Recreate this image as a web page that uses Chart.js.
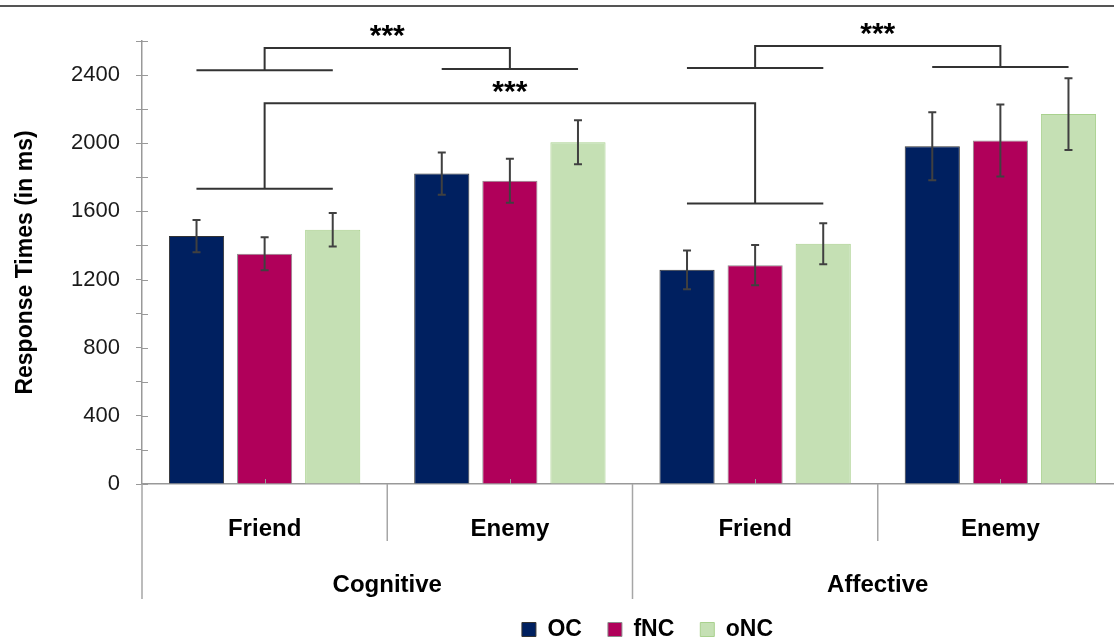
<!DOCTYPE html>
<html>
<head>
<meta charset="utf-8">
<script src="https://cdn.jsdelivr.net/npm/chart.js@4"></script>
<style>
  html, body { margin: 0; padding: 0; background: #fff; overflow: hidden; }
  #wrap { width: 1125px; height: 641px; position: relative; }
</style>
</head>
<body>
<div id="wrap"><canvas id="myChart"></canvas></div>
<script>
// data
const categories = ['Friend', 'Enemy', 'Friend', 'Enemy'];
const groups = ['Cognitive', 'Affective'];

const ocMeans   = [1455, 1822, 1257, 1982];
const ocErrors  = [95, 124, 114, 200];
const fncMeans  = [1351, 1780, 1284, 2016];
const fncErrors = [97, 129, 118, 211];
const oncMeans  = [1492, 2006, 1410, 2171];
const oncErrors = [98, 129, 120, 210];

const yTicks = [0, 400, 800, 1200, 1600, 2000, 2400];

// significance brackets (category index + value levels)
const sigBrackets = [
  { a: 0, b: 1, lowA: 2429, lowB: 2435, top: 2559, star: 2653, text: '***' },
  { a: 2, b: 3, lowA: 2441, lowB: 2447, top: 2571, star: 2665, text: '***' },
  { a: 0, b: 2, lowA: 1733, lowB: 1647, top: 2235, star: 2324, text: '***' },
];

const errors = [ocErrors, fncErrors, oncErrors];
const FONT = 'Arial, "Liberation Sans", sans-serif';

const extras = {
  id: 'extras',
  afterLayout(chart) {
    // nudge legend a little to the right like the original
    chart.legend.left += 15;
    chart.legend.right += 15;
  },
  afterDatasetsDraw(chart) {
    const ctx = chart.ctx;
    const y = chart.scales.y;
    ctx.save();
    ctx.strokeStyle = '#404040';
    ctx.lineWidth = 2;
    chart.data.datasets.forEach((ds, i) => {
      const meta = chart.getDatasetMeta(i);
      meta.data.forEach((bar, j) => {
        const hi = y.getPixelForValue(ds.data[j] + errors[i][j]);
        const lo = y.getPixelForValue(ds.data[j] - errors[i][j]);
        ctx.beginPath();
        ctx.moveTo(bar.x, hi); ctx.lineTo(bar.x, lo);
        ctx.moveTo(bar.x - 4, hi); ctx.lineTo(bar.x + 4, hi);
        ctx.moveTo(bar.x - 4, lo); ctx.lineTo(bar.x + 4, lo);
        ctx.stroke();
      });
    });
    ctx.restore();
  },
  afterDraw(chart) {
    const ctx = chart.ctx;
    const x = chart.scales.x;
    const y = chart.scales.y;
    const area = chart.chartArea;
    const step = x.getPixelForValue(1) - x.getPixelForValue(0);
    ctx.save();

    // frame line at the top
    ctx.strokeStyle = '#555';
    ctx.lineWidth = 2;
    ctx.beginPath();
    ctx.moveTo(0, 6); ctx.lineTo(chart.width, 6);
    ctx.stroke();

    // inner half of the y ticks
    ctx.strokeStyle = '#999';
    ctx.lineWidth = 1;
    y.ticks.forEach(t => {
      const py = Math.round(y.getPixelForValue(t.value)) + 0.5;
      ctx.beginPath();
      ctx.moveTo(area.left, py); ctx.lineTo(area.left + 6, py);
      ctx.stroke();
    });

    // category ticks and separators
    categories.forEach((c, i) => {
      const px = Math.round(x.getPixelForValue(i)) + 0.5;
      ctx.beginPath();
      ctx.moveTo(px, area.bottom); ctx.lineTo(px, area.bottom - 5);
      ctx.stroke();
    });
    ctx.strokeStyle = '#a6a6a6';
    ctx.lineWidth = 1.5;
    for (let k = 0; k <= categories.length; k++) {
      const bx = x.getPixelForValue(0) + (k - 0.5) * step;
      const len = k % 2 === 0 ? 115 : 57;
      ctx.beginPath();
      ctx.moveTo(bx, area.bottom); ctx.lineTo(bx, area.bottom + len);
      ctx.stroke();
    }

    // group labels
    ctx.fillStyle = '#000';
    ctx.font = 'bold 24px ' + FONT;
    ctx.textAlign = 'center';
    ctx.textBaseline = 'middle';
    groups.forEach((g, i) => {
      const gx = (x.getPixelForValue(i * 2) + x.getPixelForValue(i * 2 + 1)) / 2;
      ctx.fillText(g, gx, area.bottom + 101);
    });

    // significance brackets
    ctx.strokeStyle = '#333';
    ctx.lineWidth = 2;
    const half = step * 0.278;
    sigBrackets.forEach(b => {
      const xa = x.getPixelForValue(b.a), xb = x.getPixelForValue(b.b);
      const ya = y.getPixelForValue(b.lowA), yb = y.getPixelForValue(b.lowB);
      const yt = y.getPixelForValue(b.top);
      ctx.beginPath();
      ctx.moveTo(xa - half, ya); ctx.lineTo(xa + half, ya);
      ctx.moveTo(xb - half, yb); ctx.lineTo(xb + half, yb);
      ctx.moveTo(xa, ya); ctx.lineTo(xa, yt); ctx.lineTo(xb, yt); ctx.lineTo(xb, yb);
      ctx.stroke();
      ctx.font = 'bold 30px ' + FONT;
      ctx.textBaseline = 'alphabetic';
      ctx.fillText(b.text, (xa + xb) / 2, y.getPixelForValue(b.star) + 13);
    });
    ctx.restore();
  }
};

new Chart(document.getElementById('myChart'), {
  type: 'bar',
  data: {
    labels: categories,
    datasets: [
      { label: 'OC',  data: ocMeans,  backgroundColor: '#002060', borderColor: '#333333', borderWidth: 1 },
      { label: 'fNC', data: fncMeans, backgroundColor: '#B0005A', borderColor: '#8c8c8c', borderWidth: 1 },
      { label: 'oNC', data: oncMeans, backgroundColor: '#C5E0B4', borderColor: '#a9d18e', borderWidth: 1 },
    ],
  },
  options: {
    responsive: true,
    maintainAspectRatio: false,
    animation: false,
    barPercentage: 0.81,
    categoryPercentage: 0.833,
    layout: { padding: { top: 41, right: 2, bottom: -10, left: 0 } },
    plugins: {
      legend: {
        position: 'bottom',
        fullSize: false,
        labels: {
          boxWidth: 14,
          boxHeight: 14,
          padding: 26,
          color: '#000',
          font: { family: FONT, size: 23, weight: 'bold' },
        },
      },
      tooltip: { enabled: false },
    },
    scales: {
      x: {
        grid: { display: false },
        border: { color: '#999', width: 1.5 },
        ticks: { color: '#000', padding: 23, font: { family: FONT, size: 24, weight: 'bold' } },
        afterFit: s => { s.height = 108; },
      },
      y: {
        min: 0,
        max: 2600,
        afterFit: s => { s.width = 142; },
        border: { color: '#999', width: 1.5 },
        grid: { drawOnChartArea: false, color: '#999', tickLength: 6 },
        ticks: {
          stepSize: 200,
          padding: 16,
          color: '#1a1a1a',
          font: { family: FONT, size: 22 },
          callback: v => yTicks.includes(v) ? v : '',
        },
        title: {
          display: true,
          text: 'Response Times (in ms)',
          color: '#000',
          font: { family: FONT, size: 23, weight: 'bold' },
          padding: { top: 12, bottom: 0 },
        },
      },
    },
  },
  plugins: [extras],
});
</script>
</body>
</html>
